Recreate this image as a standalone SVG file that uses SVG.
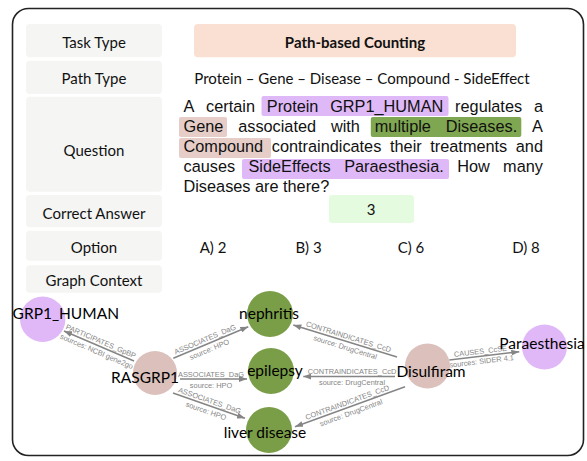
<svg xmlns="http://www.w3.org/2000/svg" width="587" height="461" viewBox="0 0 587 461">
<defs>
<style>
.lbox{fill:#f5f5f4;}
.lab{font-family:Lato,"Liberation Sans",sans-serif;font-size:15px;fill:#111;text-anchor:middle;dominant-baseline:central;}
.q{font-family:"Liberation Sans",Arial,sans-serif;font-size:16.3px;fill:#111;}
.hp{fill:#dfb9f7;}
.hk{fill:#e6cdc8;}
.hg{fill:#7fa650;}
.edge{stroke:#858585;stroke-width:1.5;fill:none;marker-end:url(#arr);}
.el{font-family:"Liberation Sans",Arial,sans-serif;font-size:7.4px;fill:#858585;text-anchor:middle;}
.nl{font-family:Lato,"Liberation Sans",sans-serif;font-size:15.5px;fill:#000;text-anchor:middle;dominant-baseline:central;}
.np{fill:#e0b8f8;}
.nk{fill:#dbc0bb;}
.ng{fill:#7a9e48;}
</style>
<marker id="arr" markerUnits="userSpaceOnUse" markerWidth="8" markerHeight="6" refX="8" refY="3" orient="auto">
<path d="M0,0 L8,3 L0,6 z" fill="#858585"/>
</marker>
</defs>
<rect x="0" y="0" width="587" height="461" fill="#ffffff"/>
<rect x="12.5" y="8.5" width="571" height="447" rx="16" fill="#ffffff" stroke="#222" stroke-width="1.6"/>

<g id="labels">
<rect class="lbox" x="26" y="24" width="136" height="33.3" rx="4"/>
<text class="lab" x="94" y="41.5">Task Type</text>
<rect class="lbox" x="26" y="60.7" width="136" height="33.3" rx="4"/>
<text class="lab" x="94" y="77.5">Path Type</text>
<rect class="lbox" x="26" y="96.7" width="136" height="95" rx="4"/>
<text class="lab" x="94" y="150">Question</text>
<rect class="lbox" x="26" y="195" width="136" height="32.3" rx="4"/>
<text class="lab" x="94" y="213">Correct Answer</text>
<rect class="lbox" x="26" y="230.7" width="136" height="30" rx="4"/>
<text class="lab" x="94" y="247">Option</text>
<rect class="lbox" x="26" y="265.3" width="136" height="27.4" rx="4"/>
<text class="lab" x="94" y="280">Graph Context</text>
</g>

<g id="values">
<rect x="194" y="24" width="322" height="33.3" rx="4" fill="#f9e0d2"/>
<text class="lab" x="355" y="41.5" font-weight="bold">Path-based Counting</text>
<text class="lab" x="362" y="77.5">Protein – Gene – Disease – Compound - SideEffect</text>
<rect x="329" y="195" width="85" height="28" rx="3" fill="#e4fbe0"/>
<text class="lab" x="371" y="208.5">3</text>
<text class="lab" x="213" y="247">A) 2</text>
<text class="lab" x="308.5" y="247">B) 3</text>
<text class="lab" x="411" y="247">C) 6</text>
<text class="lab" x="526" y="247">D) 8</text>
</g>

<g id="question">
<rect class="hp" x="261.5" y="96" width="187" height="20" rx="2"/>
<rect class="hk" x="179" y="117" width="48" height="20" rx="2"/>
<rect class="hg" x="370.8" y="117" width="150.5" height="20" rx="2"/>
<rect class="hk" x="179" y="138" width="92" height="20" rx="2"/>
<rect class="hp" x="242" y="159" width="207" height="20" rx="2"/>
<text class="q" y="112"><tspan x="183.5">A</tspan><tspan x="206.1">certain</tspan><tspan x="266.8">Protein</tspan><tspan x="330.2">GRP1_HUMAN</tspan><tspan x="455.1">regulates</tspan><tspan x="533.9">a</tspan></text>
<text class="q" y="132"><tspan x="183.5">Gene</tspan><tspan x="238.2">associated</tspan><tspan x="330.9">with</tspan><tspan x="374.8">multiple</tspan><tspan x="445.7">Diseases.</tspan><tspan x="532.1">A</tspan></text>
<text class="q" y="152"><tspan x="183.5">Compound</tspan><tspan x="271.8">contraindicates</tspan><tspan x="390">their</tspan><tspan x="430.3">treatments</tspan><tspan x="515.8">and</tspan></text>
<text class="q" y="172"><tspan x="183.5">causes</tspan><tspan x="248.5">SideEffects</tspan><tspan x="344.2">Paraesthesia.</tspan><tspan x="457.2">How</tspan><tspan x="503.1">many</tspan></text>
<text class="q" y="191.5" x="183.5">Diseases are there?</text>
</g>

<g id="connectors">
<line class="edge" x1="134" y1="361" x2="64" y2="331"/>
<g transform="translate(99,345.9) rotate(23.2)"><text class="el" y="-2.5">PARTICIPATES_GpBP</text><text class="el" y="8.5">sources: NCBI gene2go</text></g>
<line class="edge" x1="173.3" y1="358.3" x2="248.3" y2="326.7"/>
<g transform="translate(207,344) rotate(-22.8)"><text class="el" y="-2.5">ASSOCIATES_DaG</text><text class="el" y="8.5">source: HPO</text></g>
<line class="edge" x1="180" y1="379" x2="247" y2="379"/>
<g transform="translate(211,379)"><text class="el" y="-2.5">ASSOCIATES_DaG</text><text class="el" y="8.5">source: HPO</text></g>
<line class="edge" x1="173" y1="393" x2="245" y2="418.3"/>
<g transform="translate(208,405.3) rotate(19.4)"><text class="el" y="-2.5">ASSOCIATES_DaG</text><text class="el" y="8.5">source: HPO</text></g>
<line class="edge" x1="397" y1="357" x2="293.3" y2="325"/>
<g transform="translate(347,341.6) rotate(17.2)"><text class="el" y="-2.5">CONTRAINDICATES_CcD</text><text class="el" y="8.5">source: DrugCentral</text></g>
<line class="edge" x1="395" y1="376.5" x2="303.3" y2="376.5"/>
<g transform="translate(352,376.5)"><text class="el" y="-2.5">CONTRAINDICATES_CcD</text><text class="el" y="8.5">source: DrugCentral</text></g>
<line class="edge" x1="405" y1="386.7" x2="295" y2="426.7"/>
<g transform="translate(349,407.1) rotate(-20)"><text class="el" y="-2.5">CONTRAINDICATES_CcD</text><text class="el" y="8.5">source: DrugCentral</text></g>
<line class="edge" x1="449.3" y1="360" x2="519.3" y2="351.7"/>
<g transform="translate(481,356.3) rotate(-6.8)"><text class="el" y="-2.5">CAUSES_CcSE</text><text class="el" y="7.5">sources: SIDER 4.1</text></g>
</g>

<g id="node-grp1"><circle class="np" cx="42.7" cy="319.3" r="22.7"/><text class="nl" x="65.8" y="313">GRP1_HUMAN</text></g>
<g id="node-rasgrp1"><circle class="nk" cx="155" cy="373" r="22"/><text class="nl" x="145" y="376.7">RASGRP1</text></g>
<g id="node-nephritis"><circle class="ng" cx="270" cy="314" r="23"/><text class="nl" x="269" y="313">nephritis</text></g>
<g id="node-epilepsy"><circle class="ng" cx="271" cy="371" r="23"/><text class="nl" x="275" y="370">epilepsy</text></g>
<g id="node-liver"><circle class="ng" cx="269" cy="430" r="23"/><text class="nl" x="265" y="432">liver disease</text></g>
<g id="node-disulfiram"><circle class="nk" cx="427.5" cy="366" r="22.5"/><text class="nl" x="431" y="370.7">Disulfiram</text></g>
<g id="node-paraesthesia"><circle class="np" cx="544.5" cy="347" r="22.5"/><text class="nl" x="542" y="342.7">Paraesthesia</text></g>
</svg>
